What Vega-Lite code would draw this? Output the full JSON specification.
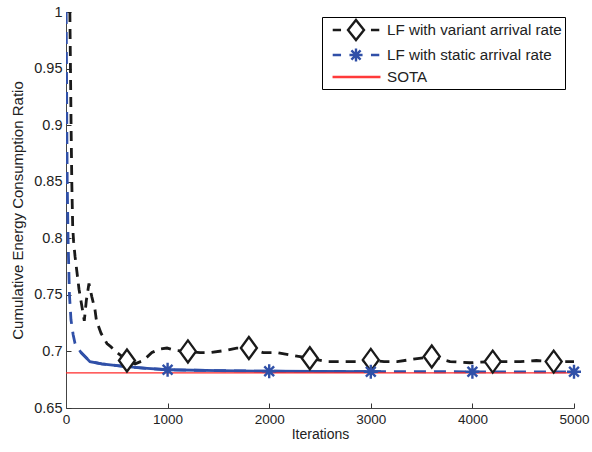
{
  "$schema": "https://vega.github.io/schema/vega-lite/v6.json",
  "width": 508,
  "height": 396,
  "autosize": {"type": "none"},
  "padding": {"left": 66, "top": 12, "right": 18, "bottom": 44},
  "background": "white",
  "config": {
    "font": "Liberation Sans",
    "view": {"stroke": null},
    "axis": {
      "grid": false,
      "domainColor": "#444",
      "tickColor": "#333",
      "labelFont": "Liberation Sans",
      "labelColor": "#222",
      "labelFlush": false,
      "titleFont": "Liberation Sans",
      "titleFontWeight": "normal",
      "titleColor": "#222",
      "tickSize": -5,
      "labelPadding": 9
    }
  },
  "datasets": {
    "curves": [
      {"series": "LF with variant arrival rate", "iteration": 38, "value": 1.0},
      {"series": "LF with variant arrival rate", "iteration": 44, "value": 0.95},
      {"series": "LF with variant arrival rate", "iteration": 50, "value": 0.90},
      {"series": "LF with variant arrival rate", "iteration": 57, "value": 0.85},
      {"series": "LF with variant arrival rate", "iteration": 66, "value": 0.81},
      {"series": "LF with variant arrival rate", "iteration": 75, "value": 0.797},
      {"series": "LF with variant arrival rate", "iteration": 89, "value": 0.784},
      {"series": "LF with variant arrival rate", "iteration": 108, "value": 0.770},
      {"series": "LF with variant arrival rate", "iteration": 128, "value": 0.755},
      {"series": "LF with variant arrival rate", "iteration": 160, "value": 0.738},
      {"series": "LF with variant arrival rate", "iteration": 180, "value": 0.727},
      {"series": "LF with variant arrival rate", "iteration": 200, "value": 0.745},
      {"series": "LF with variant arrival rate", "iteration": 226, "value": 0.760},
      {"series": "LF with variant arrival rate", "iteration": 255, "value": 0.748},
      {"series": "LF with variant arrival rate", "iteration": 285, "value": 0.737},
      {"series": "LF with variant arrival rate", "iteration": 300, "value": 0.727},
      {"series": "LF with variant arrival rate", "iteration": 345, "value": 0.716},
      {"series": "LF with variant arrival rate", "iteration": 403, "value": 0.707},
      {"series": "LF with variant arrival rate", "iteration": 443, "value": 0.704},
      {"series": "LF with variant arrival rate", "iteration": 502, "value": 0.699},
      {"series": "LF with variant arrival rate", "iteration": 560, "value": 0.695},
      {"series": "LF with variant arrival rate", "iteration": 600, "value": 0.692},
      {"series": "LF with variant arrival rate", "iteration": 680, "value": 0.689},
      {"series": "LF with variant arrival rate", "iteration": 760, "value": 0.692},
      {"series": "LF with variant arrival rate", "iteration": 846, "value": 0.699},
      {"series": "LF with variant arrival rate", "iteration": 920, "value": 0.702},
      {"series": "LF with variant arrival rate", "iteration": 994, "value": 0.703},
      {"series": "LF with variant arrival rate", "iteration": 1073, "value": 0.701},
      {"series": "LF with variant arrival rate", "iteration": 1200, "value": 0.700},
      {"series": "LF with variant arrival rate", "iteration": 1320, "value": 0.699},
      {"series": "LF with variant arrival rate", "iteration": 1420, "value": 0.699},
      {"series": "LF with variant arrival rate", "iteration": 1580, "value": 0.701},
      {"series": "LF with variant arrival rate", "iteration": 1680, "value": 0.703},
      {"series": "LF with variant arrival rate", "iteration": 1800, "value": 0.703},
      {"series": "LF with variant arrival rate", "iteration": 1940, "value": 0.699},
      {"series": "LF with variant arrival rate", "iteration": 2080, "value": 0.699},
      {"series": "LF with variant arrival rate", "iteration": 2200, "value": 0.697},
      {"series": "LF with variant arrival rate", "iteration": 2400, "value": 0.694},
      {"series": "LF with variant arrival rate", "iteration": 2570, "value": 0.691},
      {"series": "LF with variant arrival rate", "iteration": 2730, "value": 0.691},
      {"series": "LF with variant arrival rate", "iteration": 2860, "value": 0.691},
      {"series": "LF with variant arrival rate", "iteration": 3000, "value": 0.6925},
      {"series": "LF with variant arrival rate", "iteration": 3130, "value": 0.691},
      {"series": "LF with variant arrival rate", "iteration": 3260, "value": 0.691},
      {"series": "LF with variant arrival rate", "iteration": 3410, "value": 0.693},
      {"series": "LF with variant arrival rate", "iteration": 3600, "value": 0.6955},
      {"series": "LF with variant arrival rate", "iteration": 3780, "value": 0.691},
      {"series": "LF with variant arrival rate", "iteration": 3975, "value": 0.690},
      {"series": "LF with variant arrival rate", "iteration": 4200, "value": 0.691},
      {"series": "LF with variant arrival rate", "iteration": 4470, "value": 0.691},
      {"series": "LF with variant arrival rate", "iteration": 4630, "value": 0.692},
      {"series": "LF with variant arrival rate", "iteration": 4800, "value": 0.691},
      {"series": "LF with variant arrival rate", "iteration": 5000, "value": 0.691},
      {"series": "LF with static arrival rate", "iteration": 2, "value": 1.0},
      {"series": "LF with static arrival rate", "iteration": 5, "value": 0.95},
      {"series": "LF with static arrival rate", "iteration": 8, "value": 0.90},
      {"series": "LF with static arrival rate", "iteration": 12, "value": 0.85},
      {"series": "LF with static arrival rate", "iteration": 20, "value": 0.80},
      {"series": "LF with static arrival rate", "iteration": 34, "value": 0.75},
      {"series": "LF with static arrival rate", "iteration": 49, "value": 0.728},
      {"series": "LF with static arrival rate", "iteration": 70, "value": 0.715},
      {"series": "LF with static arrival rate", "iteration": 89, "value": 0.707},
      {"series": "LF with static arrival rate", "iteration": 148, "value": 0.699},
      {"series": "LF with static arrival rate", "iteration": 236, "value": 0.691},
      {"series": "LF with static arrival rate", "iteration": 350, "value": 0.689},
      {"series": "LF with static arrival rate", "iteration": 502, "value": 0.6875},
      {"series": "LF with static arrival rate", "iteration": 600, "value": 0.6865},
      {"series": "LF with static arrival rate", "iteration": 800, "value": 0.685},
      {"series": "LF with static arrival rate", "iteration": 1000, "value": 0.6838},
      {"series": "LF with static arrival rate", "iteration": 1500, "value": 0.683},
      {"series": "LF with static arrival rate", "iteration": 2000, "value": 0.6825},
      {"series": "LF with static arrival rate", "iteration": 3000, "value": 0.6821},
      {"series": "LF with static arrival rate", "iteration": 3100, "value": 0.6821},
      {"series": "LF with static arrival rate", "iteration": 4000, "value": 0.682},
      {"series": "LF with static arrival rate", "iteration": 5000, "value": 0.682},
      {"series": "SOTA", "iteration": 0, "value": 0.681},
      {"series": "SOTA", "iteration": 5000, "value": 0.681}
    ],
    "markers": [
      {"series": "LF with variant arrival rate", "iteration": 600, "value": 0.692},
      {"series": "LF with variant arrival rate", "iteration": 1200, "value": 0.700},
      {"series": "LF with variant arrival rate", "iteration": 1800, "value": 0.703},
      {"series": "LF with variant arrival rate", "iteration": 2400, "value": 0.694},
      {"series": "LF with variant arrival rate", "iteration": 3000, "value": 0.6925},
      {"series": "LF with variant arrival rate", "iteration": 3600, "value": 0.6955},
      {"series": "LF with variant arrival rate", "iteration": 4200, "value": 0.691},
      {"series": "LF with variant arrival rate", "iteration": 4800, "value": 0.691},
      {"series": "LF with static arrival rate", "iteration": 1000, "value": 0.6838},
      {"series": "LF with static arrival rate", "iteration": 2000, "value": 0.6825},
      {"series": "LF with static arrival rate", "iteration": 3000, "value": 0.6821},
      {"series": "LF with static arrival rate", "iteration": 4000, "value": 0.682},
      {"series": "LF with static arrival rate", "iteration": 5000, "value": 0.682}
    ]
  },
  "encoding": {
    "x": {
      "field": "iteration",
      "type": "quantitative",
      "scale": {"domain": [0, 5000], "nice": false},
      "axis": {"values": [0, 1000, 2000, 3000, 4000, 5000], "format": "d", "title": "Iterations", "titlePadding": 2, "labelFontSize": 13.5, "titleFontSize": 14}
    },
    "y": {
      "field": "value",
      "type": "quantitative",
      "scale": {"domain": [0.65, 1.0], "nice": false, "zero": false},
      "axis": {"values": [0.65, 0.7, 0.75, 0.8, 0.85, 0.9, 0.95, 1.0], "format": "~g", "title": "Cumulative Energy Consumption Ratio", "titlePadding": 8, "labelFontSize": 14.5, "titleFontSize": 15}
    }
  },
  "layer": [
    {
      "data": {"name": "curves"},
      "transform": [{"filter": "datum.series === 'LF with variant arrival rate'"}],
      "mark": {"type": "line", "color": "#1a1a1a", "strokeWidth": 2.8, "strokeDash": [10, 7], "clip": true}
    },
    {
      "data": {"name": "curves"},
      "transform": [{"filter": "datum.series === 'LF with static arrival rate'"}],
      "mark": {"type": "line", "color": "#3050a8", "strokeWidth": 2.8, "strokeDash": [12, 8], "clip": true}
    },
    {
      "data": {"name": "curves"},
      "transform": [{"filter": "datum.series === 'LF with static arrival rate' && datum.iteration >= 148 && datum.iteration <= 3100"}],
      "mark": {"type": "line", "color": "#3050a8", "strokeWidth": 2.8, "clip": true}
    },
    {
      "data": {"name": "curves"},
      "transform": [{"filter": "datum.series === 'SOTA'"}],
      "mark": {"type": "line", "color": "#ff2a2a", "strokeWidth": 1.2}
    },
    {
      "data": {"name": "markers"},
      "transform": [{"filter": "datum.series === 'LF with variant arrival rate'"}],
      "mark": {"type": "point", "filled": false, "color": "#1a1a1a", "fill": "white", "fillOpacity": 1, "opacity": 1, "strokeWidth": 2.3, "size": 484, "shape": "M0,-1L0.73,0L0,1L-0.73,0Z"}
    },
    {
      "data": {"name": "markers"},
      "transform": [{"filter": "datum.series === 'LF with static arrival rate'"}],
      "mark": {"type": "point", "filled": false, "color": "#3050a8", "opacity": 1, "strokeWidth": 2.4, "size": 196, "shape": "M-1,0L1,0M0,-1L0,1M-0.7,-0.7L0.7,0.7M-0.7,0.7L0.7,-0.7"}
    },
    {
      "data": {"name": "markers"},
      "mark": {"type": "point", "filled": false, "opacity": 0},
      "encoding": {
        "color": {
          "field": "series",
          "type": "nominal",
          "scale": {"domain": ["LF with variant arrival rate", "LF with static arrival rate", "SOTA"], "range": ["#1a1a1a", "#3050a8", "#ff3a3a"]},
          "legend": {
            "title": null,
            "orient": "none",
            "legendX": 256,
            "legendY": 5,
            "padding": 3,
            "rowPadding": -3.5,
            "symbolSize": 289,
            "symbolOpacity": 1,
            "symbolFillColor": "white",
            "symbolOffset": 21,
            "labelOffset": 21,
            "labelFont": "Liberation Sans",
            "labelFontSize": 15.2,
            "labelColor": "#222",
            "labelLimit": 400,
            "strokeColor": "#000",
            "fillColor": "white",
            "cornerRadius": 0
          }
        },
        "shape": {
          "field": "series",
          "type": "nominal",
          "scale": {
            "domain": ["LF with variant arrival rate", "LF with static arrival rate", "SOTA"],
            "range": [
              "M-2.74,0L-1.76,0M1.76,0L2.74,0M0,-1.18L0.94,0L0,1.18L-0.94,0Z",
              "M-2.74,0L-1.76,0M1.76,0L2.74,0M-0.77,0L0.77,0M0,-0.77L0,0.77M-0.54,-0.54L0.54,0.54M-0.54,0.54L0.54,-0.54",
              "M-2.76,0L2.88,0"
            ]
          },
          "legend": {"title": null, "orient": "none", "legendX": 256, "legendY": 5}
        },
        "strokeWidth": {
          "field": "series",
          "type": "nominal",
          "scale": {"domain": ["LF with variant arrival rate", "LF with static arrival rate", "SOTA"], "range": [2.4, 2.4, 1.0]},
          "legend": {"title": null, "orient": "none", "legendX": 256, "legendY": 5}
        }
      }
    }
  ]
}
